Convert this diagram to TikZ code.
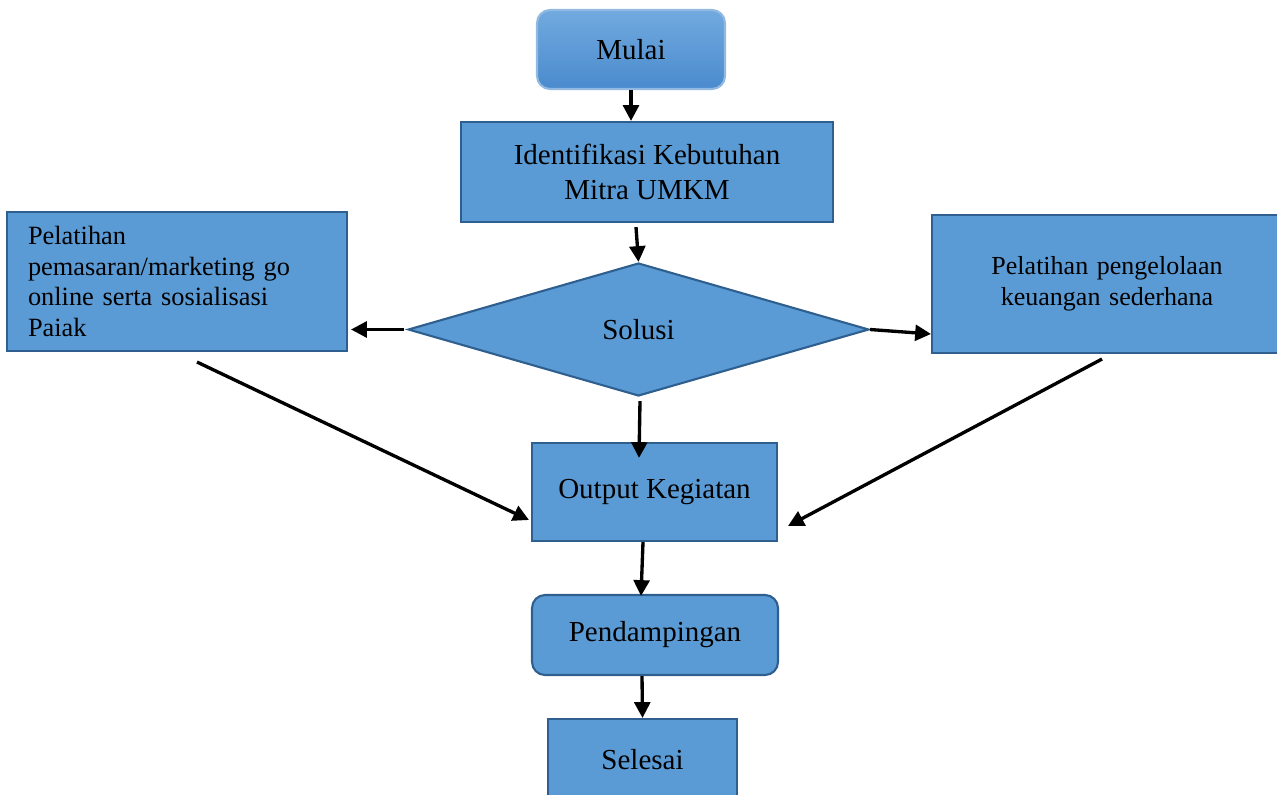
\documentclass[tikz,border=0pt]{standalone}
\usepackage{fontspec}
\setmainfont{Liberation Serif}
\usetikzlibrary{arrows.meta,shapes.geometric}
\definecolor{boxfill}{HTML}{5B9BD5}
\definecolor{boxline}{HTML}{2F5F8F}
\definecolor{gradtop}{HTML}{72AADF}
\definecolor{gradbot}{HTML}{4A8ACD}
\tikzset{
  box/.style={draw=boxline, fill=boxfill, line width=1.2pt, inner sep=0pt,
    align=center, font=\fontsize{16.5}{20}\selectfont},
  roundbox/.style={box, rounded corners=0.26cm},
  sidebox/.style={box, font=\fontsize{15}{17.5}\selectfont},
  arr/.style={-{Triangle[length=9pt,width=9pt]}, line width=1.9pt},
}
\begin{document}
\begin{tikzpicture}[x=0.02cm,y=-0.02cm]
\useasboundingbox (0,0) rectangle (1277,794);
\clip (0,0) rectangle (1277,794);
% boxes
\node[roundbox, draw=gradbot!60!white, top color=gradtop, bottom color=gradbot,
  minimum width=3.76cm, minimum height=1.58cm] (mulai) at (631,49.5) {Mulai};
\node[box, minimum width=7.44cm, minimum height=2cm] (ident) at (647,172)
  {Identifikasi Kebutuhan\\Mitra UMKM};
\node[box, diamond, aspect=3.47, minimum width=9.22cm, minimum height=2.66cm]
  (solusi) at (638.5,329.5) {Solusi};
\node[sidebox, align=left, text width=5.96cm, inner xsep=0.42cm,
  minimum height=2.78cm] (pemasaran) at (177,281.5)
  {Pelatihan\\pemasaran/marketing go\\online serta sosialisasi\\Paiak};
\node[sidebox, font=\fontsize{14.8}{17.5}\selectfont, text width=6.2cm,
  inner xsep=0.4cm, minimum height=2.76cm]
  (keuangan) at (1107,284) {Pelatihan pengelolaan\\keuangan sederhana};
\node[box, minimum width=4.9cm, minimum height=1.96cm] (output) at (654.5,492)
  {Output Kegiatan};
\node[roundbox, minimum width=4.92cm, minimum height=1.6cm] (pend) at (655,635)
  {Pendampingan};
\node[box, minimum width=3.78cm, minimum height=1.62cm] (selesai) at (642.5,759.5)
  {Selesai};
% arrows
\draw[arr] (mulai.south) -- (mulai.south |- ident.north);
\draw[arr] ([xshift=-0.22cm,yshift=-0.08cm]ident.south) -- (solusi.north);
\draw[arr] ([xshift=-0.06cm]solusi.west) -- ([xshift=0.06cm]solusi.west -| pemasaran.east);
\draw[arr] (solusi.east) -- ([yshift=-1cm]keuangan.west);
\draw[arr] ([xshift=0.03cm,yshift=-0.08cm]solusi.south) -- ([xshift=-0.31cm,yshift=-0.32cm]output.north);
\draw[arr] ([xshift=0.4cm,yshift=-0.2cm]pemasaran.south) -- ([xshift=-0.04cm,yshift=-0.56cm]output.west);
\draw[arr] ([xshift=-0.1cm,yshift=-0.1cm]keuangan.south) -- ([xshift=0.2cm,yshift=-0.68cm]output.east);
\draw[arr] ([xshift=-0.23cm]output.south) -- ([xshift=-0.28cm,yshift=-0.04cm]pend.north);
\draw[arr] ([xshift=-0.26cm]pend.south) -- (selesai.north);
\end{tikzpicture}
\end{document}
